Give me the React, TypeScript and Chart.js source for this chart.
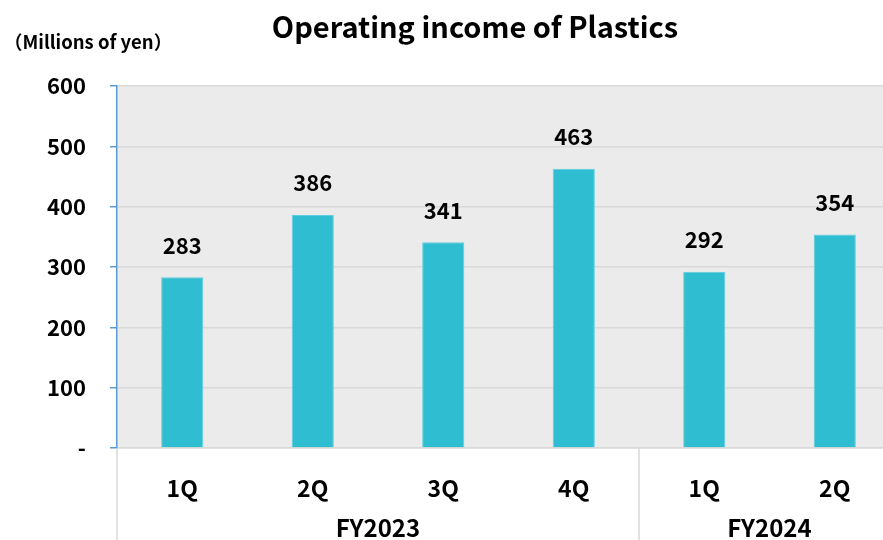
import React, { useEffect, useRef } from "react";
import { Chart, registerables } from "chart.js";

Chart.register(...registerables);

const quarters = ["1Q", "2Q", "3Q", "4Q", "1Q", "2Q"];
const fiscalYears = ["FY2023", "FY2024"];
const groupSizes = [4, 2];
const values = [283, 386, 341, 463, 292, 354];
const yTicks = [0, 100, 200, 300, 400, 500, 600];

const FONT = '"Noto Sans CJK JP", "Noto Sans", sans-serif';
const TITLE = "Operating income of Plastics";
const UNIT = "（Millions of yen）";

const decorPlugin = {
  id: "decor",
  beforeDraw(chart: any) {
    const { ctx, chartArea } = chart;
    ctx.save();
    ctx.fillStyle = "#ebebeb";
    ctx.fillRect(chartArea.left, chartArea.top, chartArea.right - chartArea.left, chartArea.bottom - chartArea.top);
    ctx.restore();
  },
  afterDraw(chart: any) {
    const { ctx, chartArea } = chart;
    const xs = chart.scales.x;
    ctx.save();
    ctx.fillStyle = "#000";
    ctx.textAlign = "center";
    ctx.textBaseline = "middle";
    ctx.font = `bold 29px ${FONT}`;
    ctx.fillText(TITLE, 475, 27);
    ctx.textAlign = "left";
    ctx.font = `bold 18.5px ${FONT}`;
    ctx.fillText(UNIT, 4, 42);

    ctx.strokeStyle = "#d9d9d9";
    ctx.lineWidth = 1.5;
    let start = 0;
    const seps: number[] = [chartArea.left];
    groupSizes.forEach((n, gi) => {
      const end = start + n - 1;
      const x0 = gi === 0 ? chartArea.left : (xs.getPixelForValue(start - 1) + xs.getPixelForValue(start)) / 2;
      const x1 = gi === groupSizes.length - 1 ? chartArea.right : (xs.getPixelForValue(end) + xs.getPixelForValue(end + 1)) / 2;
      if (gi > 0) seps.push(x0);
      ctx.font = `bold 24px ${FONT}`;
      ctx.textAlign = "center";
      ctx.fillText(fiscalYears[gi], (x0 + x1) / 2, chartArea.bottom + 80);
      start += n;
    });
    seps.forEach((x) => {
      ctx.beginPath();
      ctx.moveTo(x, chartArea.bottom);
      ctx.lineTo(x, chart.height);
      ctx.stroke();
    });

    const meta = chart.getDatasetMeta(0);
    ctx.font = `bold 22px ${FONT}`;
    ctx.textAlign = "center";
    ctx.textBaseline = "middle";
    meta.data.forEach((bar: any, i: number) => {
      ctx.fillText(String(values[i]), bar.x, bar.y - 32);
    });
    ctx.restore();
  },
};

export default function App() {
  const ref = useRef<HTMLCanvasElement>(null);
  useEffect(() => {
    document.body.style.margin = "0";
    const chart = new Chart(ref.current!, {
      type: "bar",
      data: {
        labels: quarters,
        datasets: [
          {
            data: values,
            backgroundColor: "#2ebdd1",
            borderColor: "#5ccfde",
            borderWidth: 1,
            barPercentage: 0.323,
            categoryPercentage: 1,
          },
        ],
      },
      options: {
        animation: false,
        responsive: false,
        maintainAspectRatio: false,
        layout: { padding: { top: 86, left: 0, right: 0, bottom: 0 } },
        plugins: { legend: { display: false }, tooltip: { enabled: false }, title: { display: false } },
        scales: {
          x: {
            grid: { display: false },
            border: { color: "#d9d9d9", width: 1.5 },
            ticks: { color: "#000", font: { family: FONT, size: 23, weight: "bold" }, padding: 18 },
            afterFit: (s: any) => {
              s.height = 92;
            },
          },
          y: {
            min: 0,
            max: 600,
            afterBuildTicks: (s: any) => {
              s.ticks = yTicks.map((v) => ({ value: v }));
            },
            grid: { color: "#d9d9d9", lineWidth: 1.5, tickColor: "#5b9bd5", tickLength: 7 },
            border: { color: "#5b9bd5", width: 1.5 },
            ticks: {
              color: "#000",
              font: { family: FONT, size: 22, weight: "bold" },
              padding: 24,
              callback: (v: any) => (v === 0 ? "-" : String(v)),
            },
            afterFit: (s: any) => {
              s.width = 117;
            },
          },
        },
      },
      plugins: [decorPlugin],
    });
    return () => chart.destroy();
  }, []);
  return (
    <div style={{ width: 883, height: 540, overflow: "hidden" }}>
      <canvas ref={ref} width={900} height={540} style={{ display: "block" }} />
    </div>
  );
}
